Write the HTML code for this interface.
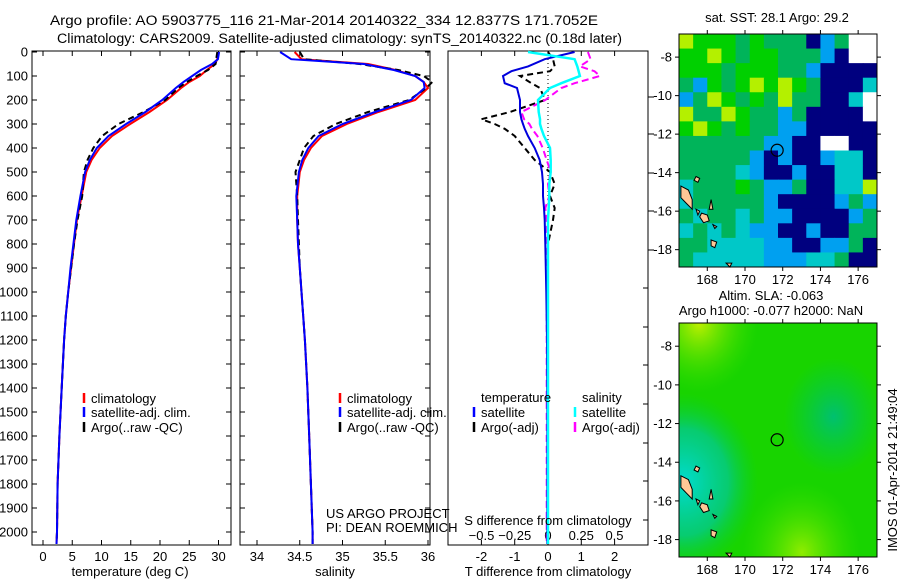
<!DOCTYPE html>
<html><head><meta charset="utf-8"><style>
html,body{margin:0;padding:0;background:#fff}
svg{display:block;font-family:"Liberation Sans",sans-serif}
text{font-size:13px;fill:#000}
</style></head><body>
<svg id="fig" width="900" height="580" viewBox="0 0 900 580">
<text x="50" y="25" textLength="548" lengthAdjust="spacingAndGlyphs" style="font-size:13.5px">Argo profile: AO 5903775_116 21-Mar-2014 20140322_334 12.8377S 171.7052E</text>
<text x="57" y="43" textLength="565" lengthAdjust="spacingAndGlyphs" style="font-size:13.5px">Climatology: CARS2009. Satellite-adjusted climatology: synTS_20140322.nc (0.18d later)</text>
<g id="g"></g>
</svg>
<script>
// ---- data ----
const depths = [0,30,50,75,100,125,150,200,250,300,350,400,450,500,600,700,800,900,1000,1100,1200,1400,1600,1800,2000,2050];
const tempClim = [29.9,29.8,29.4,28.0,26.8,25.0,23.6,21.2,18.2,14.9,11.8,9.7,8.3,7.4,6.6,5.8,5.3,4.8,4.3,3.9,3.6,3.2,2.8,2.5,2.4,2.3];
const tempSat  = [30.1,29.9,28.9,27.0,25.5,24.0,22.7,20.4,17.5,14.2,11.2,9.2,8.0,7.2,6.4,5.7,5.2,4.7,4.3,3.9,3.6,3.2,2.8,2.5,2.4,2.3];
const tempArgo = [29.8,29.6,29.5,28.2,26.3,24.6,23.1,20.9,17.2,12.9,10.1,8.6,7.6,7.0,6.7,5.9,5.3,4.8,4.3,3.9,3.6,3.2,2.8,2.5,2.4,2.3];
const salClim = [34.44,34.52,35.30,35.62,35.85,35.95,36.00,35.85,35.42,35.05,34.76,34.63,34.55,34.50,34.47,34.47,34.48,34.50,34.52,34.54,34.56,34.59,34.61,34.63,34.65,34.65];
const salSat  = [34.27,34.40,35.25,35.60,35.85,35.95,35.96,35.80,35.38,35.00,34.72,34.60,34.53,34.49,34.46,34.47,34.48,34.50,34.52,34.54,34.56,34.59,34.61,34.63,34.65,34.65];
const salArgo = [34.50,34.55,35.20,35.65,35.95,36.05,35.98,35.78,35.30,34.92,34.66,34.55,34.50,34.45,34.47,34.48,34.49,34.50,34.52,34.54,34.56,34.59,34.61,34.63,34.65,34.65];
const diffDepths = [0,30,60,80,100,130,150,200,250,280,300,320,350,400,450,500,550,600,650,700,800,1000,1200,1500,1800,2050];
const dTsat  = [0.8,-0.1,-0.6,-1.1,-1.35,-1.3,-0.93,-0.84,-0.84,-0.80,-0.75,-0.70,-0.60,-0.40,-0.25,-0.18,-0.15,-0.15,-0.12,-0.10,-0.08,-0.05,-0.03,-0.02,-0.02,-0.02];
const dTargo = [0.0,0.15,0.2,0.06,-0.84,-0.5,-0.24,-0.09,-1.14,-2.0,-1.6,-1.3,-1.0,-0.7,-0.4,0.06,0.2,0.06,0.2,0.15,0.0,0.0,0.0,0.0,0.0,0.0];
const dSsat  = [-0.15,0.2,0.22,0.23,0.24,0.1,0.015,-0.075,-0.07,-0.06,-0.06,-0.05,-0.03,0.015,0.02,0.02,0.01,0.01,0.005,0.0,0.0,0.0,0.0,0.0,0.0,0.0];
const dSargo = [0.3,0.32,0.24,0.35,0.39,0.2,0.1,-0.02,-0.2,-0.18,-0.14,-0.12,-0.08,-0.04,-0.01,0.02,0.0,0.01,-0.02,-0.01,-0.01,-0.01,-0.01,-0.01,-0.01,-0.01];
const depthTicks = [0,100,200,300,400,500,600,700,800,900,1000,1100,1200,1300,1400,1500,1600,1700,1800,1900,2000];
const tTicks = [0,5,10,15,20,25,30];
const sTicks = [34,34.5,35,35.5,36];
const dtTicks = [-2,-1,0,1,2];
const dsTicks = [-0.5,-0.25,0,0.25,0.5];
const lonTicks = [168,170,172,174,176];
const latTicks = [-8,-10,-12,-14,-16,-18];
const sstRows = [
"yGGGgGgggnbgww","GGyGgGGgggbnww","GGGgGGGggbnnnn","gbGgGyGyGgnnnc",
"bgyGgGgyggnncw","yggyGggbgnnnnw","GyGgGggbbnnnnn","ggggggbbnnwwnn",
"gggggbnbnnbccn","ggggcbnnbnnccn","cgggGgbbgnnccy","cgggggbnnnnbgb",
"gcggcgbbnnnnbg","cgcgcbbnnbnngg","ggccccbbnnbbgn","gcccccbbbccgnn"];
const sstColors = {y:"#b4f000",G:"#00d000",g:"#00b45a",c:"#00c8c8",b:"#00a0f0",n:"#00007f",w:"#ffffff"};
const argoLon = 171.705, argoLat = -12.838;

const NS="http://www.w3.org/2000/svg", G=document.getElementById('g');
function el(t,a,txt){const e=document.createElementNS(NS,t);for(const k in a)e.setAttribute(k,a[k]);if(txt!==undefined)e.textContent=txt;G.appendChild(e);return e;}
const Y0=52, PY=0.24, FT=51, FB=545;
const yD=d=>Y0+d*PY;
function frame(x1,x2,name){const r=el('rect',{x:x1,y:FT,width:x2-x1,height:FB-FT,fill:'none',stroke:'#000','stroke-width':1});
}
function line(xs,ds,xf,color,dash,name,w){const p=ds.map((d,i)=>xf(xs[i]).toFixed(1)+','+yD(d).toFixed(1)).join(' ');
const e=el('polyline',{points:p,fill:'none',stroke:color,'stroke-width':w||2,'stroke-dasharray':dash||'none'});
}
function xticks(ticks,xf,y,lab,name){ticks.forEach(t=>{const x=xf(t);el('line',{x1:x,x2:x,y1:FB,y2:FB-5,stroke:'#000'});el('line',{x1:x,x2:x,y1:FT,y2:FT+5,stroke:'#000'});
const e=el('text',{x:x,y:y,'text-anchor':'middle'},lab?lab(t):String(t));});}
function legend(x,y,color,label,name){el('line',{x1:x,x2:x,y1:y-10,y2:y,stroke:color,'stroke-width':2.5});
const e=el('text',{x:x+7,y:y},label);}

// panel 1
frame(32,231,'temperature-panel');
const xT=t=>43+t*5.85;
depthTicks.forEach(d=>{const y=yD(d);el('line',{x1:32,x2:37,y1:y,y2:y,stroke:'#000'});el('line',{x1:226,x2:231,y1:y,y2:y,stroke:'#000'});
const e=el('text',{x:28,y:y+4.5,'text-anchor':'end'},String(d));});
xticks(tTicks,xT,561,null,'temperature-tick-label');
line(tempClim,depths,xT,'#ff0000',null,'temp-climatology-line');
line(tempArgo,depths,xT,'#000','6,4','temp-argo-line');
line(tempSat,depths,xT,'#0000ff',null,'temp-satellite-line');
legend(84,403,'#ff0000','climatology','legend-climatology');
legend(84,417,'#0000ff','satellite-adj. clim.','legend-satellite');
legend(84,432,'#000','Argo(..raw -QC)','legend-argo');
el('text',{x:130,y:576,'text-anchor':'middle',},'temperature (deg C)');

// panel 2
frame(240,430,'salinity-panel');
const xS=s=>257+(s-34)*85.5;
depthTicks.forEach(d=>{const y=yD(d);el('line',{x1:240,x2:245,y1:y,y2:y,stroke:'#000'});el('line',{x1:425,x2:430,y1:y,y2:y,stroke:'#000'});});
xticks(sTicks,xS,561,null,'salinity-tick-label');
line(salClim,depths,xS,'#ff0000',null,'sal-climatology-line');
line(salArgo,depths,xS,'#000','6,4','sal-argo-line');
line(salSat,depths,xS,'#0000ff',null,'sal-satellite-line');
legend(340,403,'#ff0000','climatology','legend-climatology-2');
legend(340,417,'#0000ff','satellite-adj. clim.','legend-satellite-2');
legend(340,432,'#000','Argo(..raw -QC)','legend-argo-2');
el('text',{x:326,y:518,},'US ARGO PROJECT');
el('text',{x:326,y:532,},'PI: DEAN ROEMMICH');
el('text',{x:335,y:576,'text-anchor':'middle',},'salinity');

// panel 3
frame(448,648,'difference-panel');
const xDT=t=>548+t*33.3, xDS=s=>548+s*133;
[97,134,173,211,250].forEach(y=>el('line',{x1:648,x2:654,y1:y,y2:y,stroke:'#000'}));
[288,327,365,404,443,481,520].forEach(y=>el('line',{x1:643,x2:648,y1:y,y2:y,stroke:'#000'}));
xticks(dtTicks,xDT,561,null,'t-diff-tick-label');
dsTicks.forEach(s=>{const e=el('text',{x:xDS(s),y:540,'text-anchor':'middle'},s===0?'0':String(s).replace('-','−'));});
el('line',{x1:548,x2:548,y1:FT,y2:250,stroke:'#000','stroke-dasharray':'1,3'});
line(dTargo,diffDepths,xDT,'#000','6,4','t-diff-argo-line');
line(dSargo,diffDepths,xDS,'#ff00ff','7,4','s-diff-argo-line');
line(dTsat,diffDepths,xDT,'#0000dd',null,'t-diff-satellite-line');
line(dSsat,diffDepths,xDS,'#00ffff',null,'s-diff-satellite-line',2.5);
el('text',{x:481,y:402,},'temperature');
el('text',{x:582,y:402,},'salinity');
legend(474,417,'#0000ff','satellite','legend-t-satellite');
legend(474,432,'#000','Argo(-adj)','legend-t-argo');
legend(575,417,'#00ffff','satellite','legend-s-satellite');
legend(575,432,'#ff00ff','Argo(-adj)','legend-s-argo');
el('text',{x:548,y:525,'text-anchor':'middle',},'S difference from climatology');
el('text',{x:548,y:576,'text-anchor':'middle',},'T difference from climatology');

// maps
const MX0=679,MX1=877,LON0=166.5,LON1=177,LAT0=-6.8,LAT1=-18.9;
function mapAxes(top,bottom){
 const xL=l=>MX0+(l-LON0)*(MX1-MX0)/(LON1-LON0);
 const yL=l=>top+(l-LAT0)*(bottom-top)/(LAT1-LAT0);
 return {xL,yL};}
function drawMap(top,bottom,name,fill){
 const {xL,yL}=mapAxes(top,bottom);
 fill(xL,yL);
 const isl=[[[166.6,-14.7],[167.0,-14.9],[167.2,-15.4],[167.2,-15.9],[166.9,-15.6],[166.6,-15.3]],
  [[167.7,-16.1],[168.0,-16.2],[168.1,-16.5],[167.8,-16.6],[167.6,-16.3]],
  [[167.4,-15.9],[167.6,-16.0],[167.5,-16.2]],[[168.2,-15.4],[168.3,-15.9],[168.1,-15.9]],
  [[168.2,-17.5],[168.5,-17.6],[168.4,-17.9],[168.2,-17.8]],[[167.4,-14.2],[167.6,-14.3],[167.5,-14.5],[167.3,-14.4]],
  [[168.3,-16.7],[168.5,-16.8],[168.4,-16.9]],[[169.0,-18.7],[169.3,-18.7],[169.2,-18.9]]];
 isl.forEach(p=>{const e=el('polygon',{points:p.map(q=>xL(q[0]).toFixed(1)+','+yL(q[1]).toFixed(1)).join(' '),fill:'#ffc896',stroke:'#000','stroke-width':1});
  });
 const c=el('circle',{cx:xL(argoLon),cy:yL(argoLat),r:6,fill:'none',stroke:'#000','stroke-width':1.2});
 
 const r=el('rect',{x:MX0,y:top,width:MX1-MX0,height:bottom-top,fill:'none',stroke:'#000'});
 
 lonTicks.forEach(l=>{const x=xL(l);el('line',{x1:x,x2:x,y1:top,y2:top-4,stroke:'#000'});el('line',{x1:x,x2:x,y1:bottom,y2:bottom+4,stroke:'#000'});
  const e=el('text',{x:x,y:bottom+17,'text-anchor':'middle'},String(l));});
 latTicks.forEach(l=>{const y=yL(l);el('line',{x1:MX0,x2:MX0-4,y1:y,y2:y,stroke:'#000'});el('line',{x1:MX1,x2:MX1+4,y1:y,y2:y,stroke:'#000'});
  const e=el('text',{x:672,y:y+4.5,'text-anchor':'end'},String(l));});
}
drawMap(34,267,'sst-map',(xL,yL)=>{
 const nr=sstRows.length, nc=sstRows[0].length, cw=(MX1-MX0)/nc, ch=(267-34)/nr;
 sstRows.forEach((row,i)=>{[...row].forEach((k,j)=>{
  const e=el('rect',{x:MX0+j*cw,y:34+i*ch,width:cw+0.5,height:ch+0.5,fill:sstColors[k]});
  });});
});
el('text',{x:777,y:22,'text-anchor':'middle',},'sat. SST: 28.1 Argo: 29.2');
const defs=document.createElementNS(NS,'defs');defs.innerHTML=
'<radialGradient id="cy" cx="0.02" cy="0.68" r="0.38"><stop offset="0" stop-color="#00dcd0"/><stop offset="0.6" stop-color="#00c8a0" stop-opacity="0.7"/><stop offset="1" stop-color="#00cc40" stop-opacity="0"/></radialGradient>'+
'<radialGradient id="yt" cx="0.1" cy="0" r="0.3"><stop offset="0" stop-color="#c0f000"/><stop offset="1" stop-color="#40e000" stop-opacity="0"/></radialGradient>'+
'<radialGradient id="yb" cx="0.62" cy="0.98" r="0.3"><stop offset="0" stop-color="#90ec00"/><stop offset="1" stop-color="#40e000" stop-opacity="0"/></radialGradient>'+
'<radialGradient id="tq" cx="0.78" cy="0.4" r="0.25"><stop offset="0" stop-color="#00c070"/><stop offset="1" stop-color="#00c850" stop-opacity="0"/></radialGradient>';
document.getElementById('fig').insertBefore(defs,document.getElementById('g'));
drawMap(323,557,'sla-map',()=>{
 [['#18d400'],['url(#tq)'],['url(#cy)'],['url(#yt)'],['url(#yb)']].forEach(f=>{
  const e=el('rect',{x:MX0,y:323,width:MX1-MX0,height:234,fill:f[0]});});
});
el('text',{x:771,y:300,'text-anchor':'middle',},'Altim. SLA: -0.063');
el('text',{x:771,y:315,'text-anchor':'middle',},'Argo h1000: -0.077 h2000: NaN');
el('text',{x:897,y:470,'text-anchor':'middle',transform:'rotate(-90 897 470)',},'IMOS 01-Apr-2014 21:49:04');
</script>
</body></html>
